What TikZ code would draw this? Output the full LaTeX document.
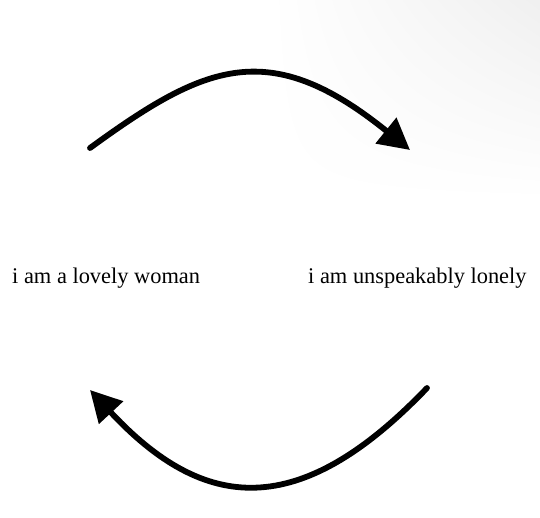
\documentclass[tikz,border=0pt]{standalone}
\usepackage{fontspec}
\setmainfont{Liberation Serif}
\usetikzlibrary{arrows.meta,shadings}
\tikzset{
  label text/.style={anchor=base west, inner sep=0pt, font=\fontsize{22.4}{26}\selectfont, text=black},
  cycle arrow/.style={line width=5.8pt, line cap=round, draw=black, -{Triangle[length=31pt,width=32pt]}}
}
\begin{document}
\begin{tikzpicture}[x=1pt,y=-1pt]
\useasboundingbox (0,0) rectangle (540,517);
\fill[white] (0,0) rectangle (540,517);
\shade[upper left=white, upper right=black!6, lower left=white, lower right=white] (270,0) rectangle (540,200);
\node[label text] (woman) at (12,283) {i am a lovely woman};
\node[label text] (lonely) at (308,283) {i am unspeakably lonely};
\coordinate (topstart) at (90,148);
\coordinate (topend) at (410,150);
\coordinate (botstart) at (427,388);
\coordinate (botend) at (90,390);
\draw[cycle arrow] (topstart) .. controls (204.5,64.6) and (268.9,36) .. (topend);
\draw[cycle arrow] (botstart) .. controls (298.7,521.9) and (203.7,512) .. (botend);
\end{tikzpicture}
\end{document}
